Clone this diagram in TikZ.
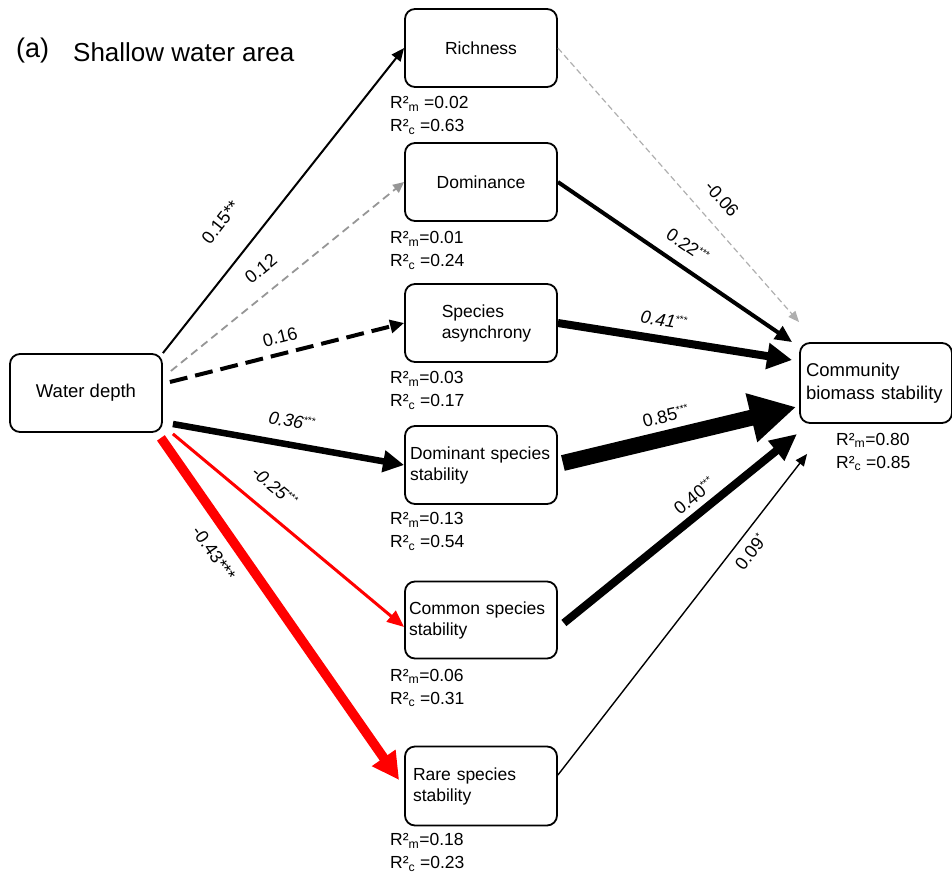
\documentclass[tikz,border=0pt]{standalone}
\usepackage{fontspec}
\setmainfont{Liberation Sans}
\usetikzlibrary{arrows.meta,calc}
\definecolor{dgray}{RGB}{150,150,150}
\definecolor{lgray}{RGB}{175,175,175}
\definecolor{sred}{RGB}{255,0,0}
\newcommand\fsz[2]{\fontsize{#1}{#2}\selectfont}
\newcommand\sig[1]{\textsuperscript{\fontsize{10}{10}\selectfont #1}}
\begin{document}
\begin{tikzpicture}[x=1pt,y=-1pt,
  box/.style={draw, line width=1.8pt, rounded corners=10pt, minimum width=152pt, minimum height=78pt, inner sep=0pt, font=\fsz{17.5}{21}},
  rsq/.style={anchor=west, inner sep=0pt, align=left, font=\fsz{17.5}{23}},
  lab/.style={sloped, inner sep=0pt, font=\fsz{18}{18}, text=black},
  con/.style={draw=black},
]
\useasboundingbox (0,0) rectangle (952,875);

% title
\node[anchor=base west, inner sep=0pt, font=\fsz{27}{30}] (ta) at (16,58) {(a)};
\node[anchor=base west, inner sep=0pt, font=\fsz{26}{30}] (tb) at (73,61) {Shallow water area};

% boxes
\node[box, font=\fsz{18.5}{21}] (wd) at (86,393) {Water depth};
\node[box] (rich) at (481,48) {Richness};
\node[box] (dom) at (481,182) {Dominance};
\node[box, align=left] (asyn) at (481,323) {\hspace*{11pt}Species\\\hspace*{11pt}asynchrony};
\node[box, align=left, text width=142pt, inner xsep=5pt] (dss) at (481,465) {Dominant species\\stability};
\node[box, align=left, text width=144pt, inner xsep=4pt, minimum height=77pt] (css) at (481,620) {Common species\\stability};
\node[box, align=left, text width=136pt, inner xsep=8pt, minimum height=79pt] (rss) at (481,786) {Rare species\\stability};
\node[box, align=left, text width=140pt, inner xsep=6pt, minimum height=80pt, font=\fsz{18.5}{23}] (cbs) at (876,383) {Community\\biomass stability};

% R squared
\node[rsq] (r1) at (390,115.5) {R²\textsubscript{m} =0.02\\R²\textsubscript{c} =0.63};
\node[rsq] (r2) at (390,250.5) {R²\textsubscript{m}=0.01\\R²\textsubscript{c} =0.24};
\node[rsq] (r3) at (390,390.5) {R²\textsubscript{m}=0.03\\R²\textsubscript{c} =0.17};
\node[rsq] (r4) at (390,531.5) {R²\textsubscript{m}=0.13\\R²\textsubscript{c} =0.54};
\node[rsq] (r5) at (390,688) {R²\textsubscript{m}=0.06\\R²\textsubscript{c} =0.31};
\node[rsq] (r6) at (390,852.5) {R²\textsubscript{m}=0.18\\R²\textsubscript{c} =0.23};
\node[rsq] (r7) at (836,452) {R²\textsubscript{m}=0.80\\R²\textsubscript{c} =0.85};

% connectors from water depth
\draw[con, line width=2pt, -{Triangle[length=13pt,width=11pt]}]
  (wd.north east) -- (rich.west)
  node[lab, pos=0.356, yshift=36pt] (l1) {0.15**};
\draw[con, draw=dgray, line width=1.8pt, dash pattern=on 8pt off 5pt, -{Triangle[length=11pt,width=10pt]}]
  ($(wd.east)+(8,-22)$) -- (dom.west)
  node[lab, pos=0.447, yshift=22.7pt] (l2) {0.12};
\draw[con, line width=4pt, dash pattern=on 18pt off 8pt, -{Triangle[length=14pt,width=13pt]}]
  ($(wd.east)+(7,-11)$) -- (asyn.west)
  node[lab, pos=0.4875, yshift=16.7pt] (l3) {0.16};
\draw[con, line width=6.5pt, -{Triangle[length=21pt,width=21pt]}]
  ($(wd.east)+(10,31)$) -- (dss.west)
  node[lab, pos=0.498, yshift=23.7pt] (l4) {\textit{0.36}\sig{***}};
\draw[con, draw=sred, line width=3pt, -{Triangle[length=17pt,width=14pt]}]
  ($(wd.south east)+(10,1)$) -- ($(css.west)+(0,7)$)
  node[lab, pos=0.372, yshift=24.9pt] (l5) {\textit{-0.25}\sig{***}};
\draw[con, draw=sred, line width=9.5pt, -{Triangle[length=27pt,width=27pt]}]
  ($(wd.south east)+(-2,5)$) -- ($(rss.west)+(-5,-6)$)
  node[lab, pos=0.30, yshift=-22.6pt] (l6) {-0.43***};

% connectors into community biomass stability
\draw[con, draw=lgray, line width=1.2pt, dash pattern=on 6pt off 3.5pt, -{Triangle[length=11pt,width=9pt]}]
  (rich.east) -- ($(cbs.north west)+(0,-20)$)
  node[lab, pos=0.607, yshift=23.5pt] (l7) {-0.06};
\draw[con, line width=4pt, -{Triangle[length=17pt,width=15pt]}]
  (dom.east) -- ($(cbs.north west)+(-7,0)$)
  node[lab, pos=0.505, yshift=20.9pt] (l8) {0.22\sig{***}};
\draw[con, line width=8pt, -{Triangle[length=25pt,width=25pt]}]
  (asyn.east) -- ($(cbs.west)+(-7,-23)$)
  node[lab, pos=0.4406, yshift=19.5pt] (l9) {\textit{0.41}\sig{***}};
\draw[con, line width=16pt, -{Triangle[length=46pt,width=47pt]}]
  ($(dss.east)+(5,-2)$) -- ($(cbs.west)+(-3,24)$)
  node[lab, pos=0.463, yshift=21.7pt] (l10) {0.85\sig{***}};
\draw[con, line width=8pt, -{Triangle[length=27pt,width=24pt]}]
  ($(css.east)+(6,3)$) -- ($(cbs.south west)+(-2,10)$)
  node[lab, pos=0.605, yshift=16.8pt] (l11) {0.40\sig{***}};
\draw[con, line width=1.4pt, -{Triangle[length=12pt,width=10pt]}]
  ($(rss.east)+(0,-11)$) -- ($(cbs.south west)+(8,30)$)
  node[lab, pos=0.725, yshift=-15.3pt] (l12) {0.09\sig{*}};
\end{tikzpicture}
\end{document}
